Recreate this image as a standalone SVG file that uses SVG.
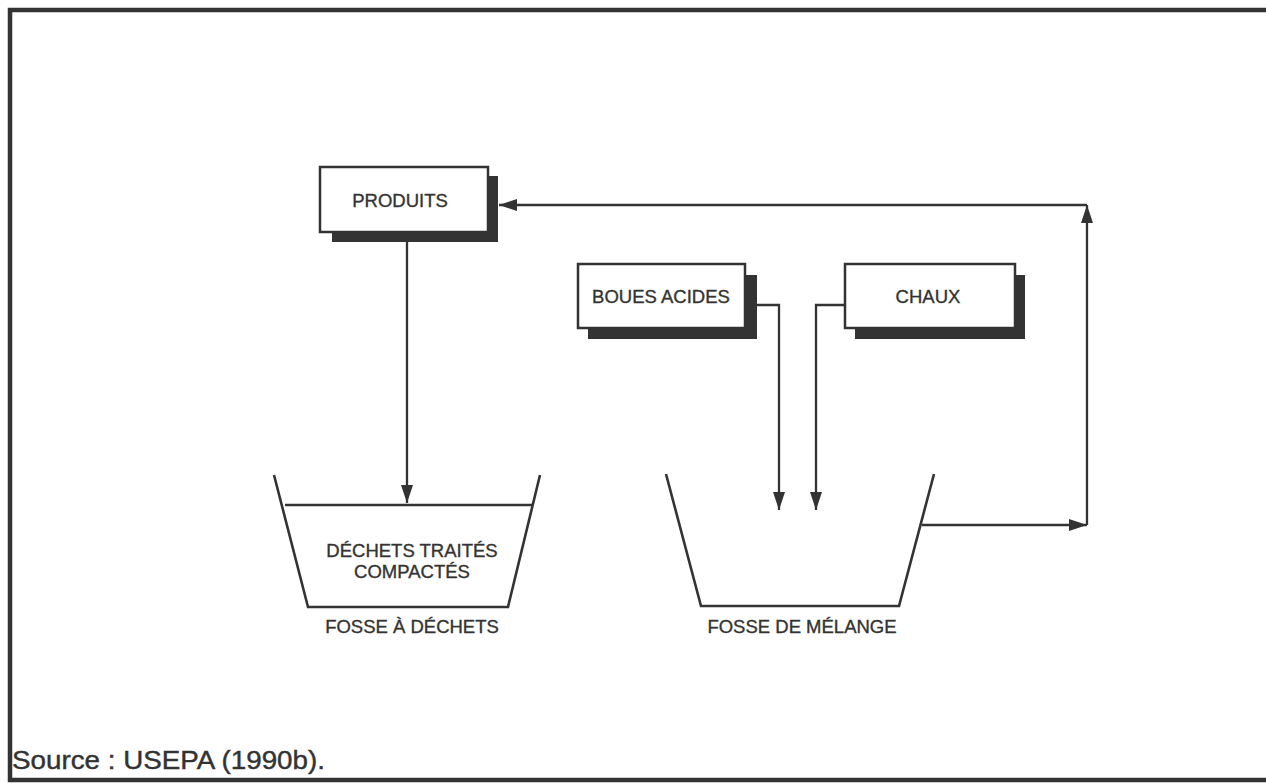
<svg xmlns="http://www.w3.org/2000/svg" width="1266" height="783" viewBox="0 0 1266 783">
<style>
  .t{font-family:"Liberation Sans",Arial,Helvetica,sans-serif;font-size:18.5px;fill:#333;stroke:#333;stroke-width:0.35;text-anchor:middle}
  .box{fill:#fff;stroke:#333;stroke-width:2.5}
  .sh{fill:#333}
  .ln{fill:none;stroke:#333;stroke-width:2.3}
  .pit{fill:none;stroke:#333;stroke-width:2.6;stroke-linejoin:miter}
</style>
<defs>
  <marker id="ah" viewBox="0 0 18 12" refX="18" refY="6" markerWidth="18" markerHeight="12" markerUnits="userSpaceOnUse" orient="auto">
    <path d="M0,0 L18,6 L0,12 Z" fill="#333"/>
  </marker>
</defs>
<rect width="1266" height="783" fill="#fff"/>
<path d="M1270,10 H10 V780 H1270" fill="none" stroke="#333" stroke-width="4.5"/>

<g id="connectors">
  <path class="ln" d="M407,242 V503" marker-end="url(#ah)"/>
  <path class="ln" d="M757,305 H779 V510" marker-end="url(#ah)"/>
  <path class="ln" d="M845,305 H816 V510" marker-end="url(#ah)"/>
  <path class="ln" d="M922,525 H1087" marker-end="url(#ah)"/>
  <path class="ln" d="M1087,525 V205" marker-end="url(#ah)"/>
  <path class="ln" d="M1087,205 H499" marker-end="url(#ah)"/>
</g>

<g id="produits">
  <rect class="sh" x="332" y="176" width="166" height="66"/>
  <rect class="box" x="320" y="167" width="168" height="65"/>
  <text class="t" x="400" y="207">PRODUITS</text>
</g>

<g id="boues">
  <rect class="sh" x="588" y="275" width="169" height="64"/>
  <rect class="box" x="578" y="264" width="167" height="64"/>
  <text class="t" x="661" y="303">BOUES ACIDES</text>
</g>

<g id="chaux">
  <rect class="sh" x="855" y="275" width="170" height="64"/>
  <rect class="box" x="845" y="264" width="170" height="64"/>
  <text class="t" x="928" y="303">CHAUX</text>
</g>

<g id="fosse-dechets">
  <path class="pit" d="M274,475 L308,607 H508 L540,475"/>
  <line x1="285" y1="505" x2="532" y2="505" stroke="#333" stroke-width="2.5"/>
  <text class="t" x="412" y="557">DÉCHETS TRAITÉS</text>
  <text class="t" x="412" y="578">COMPACTÉS</text>
  <text class="t" x="412" y="633">FOSSE À DÉCHETS</text>
</g>

<g id="fosse-melange">
  <path class="pit" d="M666,474 L701,606 H899 L934,474"/>
  <text class="t" x="802" y="633">FOSSE DE MÉLANGE</text>
</g>

<text x="12" y="769" font-family="Liberation Sans, Arial, sans-serif" font-size="25" fill="#333" stroke="#333" stroke-width="0.4" textLength="313" lengthAdjust="spacingAndGlyphs">Source : USEPA (1990b).</text>
</svg>
